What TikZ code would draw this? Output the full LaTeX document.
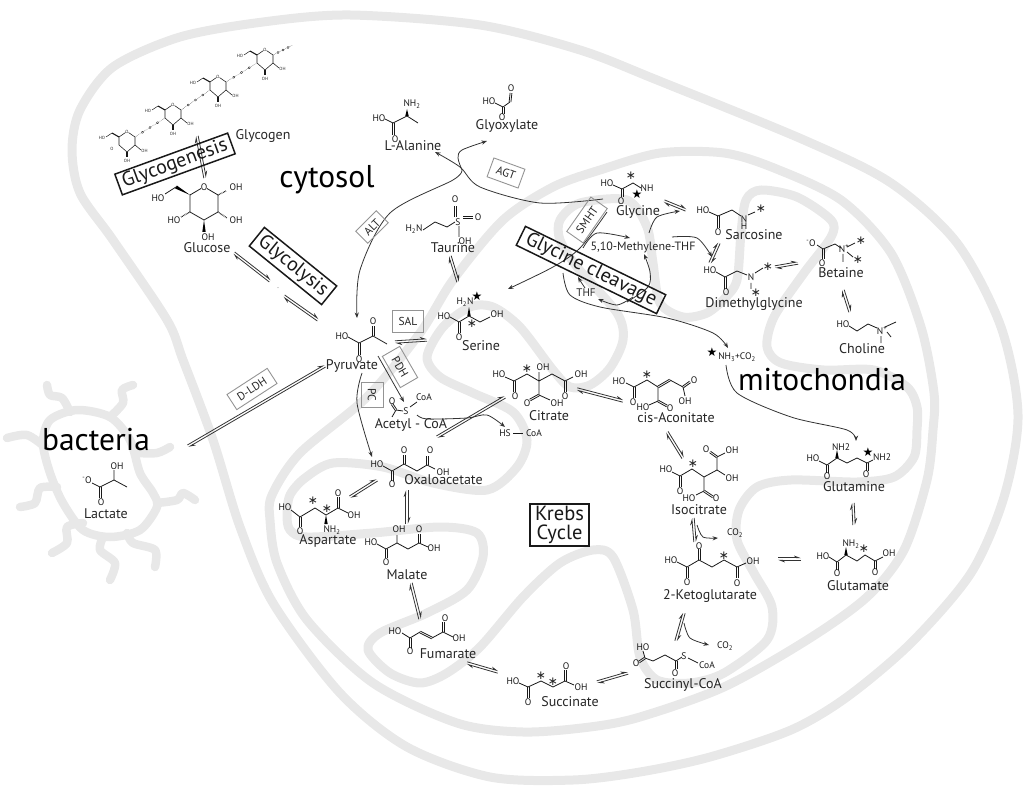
\documentclass[tikz,border=0pt]{standalone}
\usepackage{fontspec}
\setmainfont{PT Sans}
\newfontfamily\djv{DejaVu Sans}
\usetikzlibrary{arrows.meta,calc}
\newcounter{nc}
\newcommand\fs[1]{\fontsize{#1}{#1}\selectfont}
\tikzset{
 band/.style={draw=bandgray,line width=9pt,line join=round},
 fla/.style={draw=bandgray,line width=8.5pt,line cap=round,line join=round},
 bond/.style={draw=black!90,line width=.8pt,line join=round},
 atomn/.style={inner sep=0pt,text=black!90,font=\fs{9.5}},
 atoms/.style={inner sep=0pt,text=black!85,font=\fs{4.5}},
 lbln/.style={inner sep=0pt,text=black!85,font=\fs{14}},
 bign/.style={inner sep=0pt,text=black,font=\fs{31.5}},
 astn/.style={inner sep=0pt,text=black!85,font=\djv\fs{12}},
 starn/.style={inner sep=0pt,text=black,font=\djv\fs{12}},
 gbox/.style={draw=black!42,line width=.9pt,inner sep=0pt,text=black!85,font=\fs{11.5},align=center},
 bbox/.style={draw=black!90,line width=1.5pt,inner sep=0pt,text=black!90,font=\fs{20},align=center},
 rxn/.style={draw=black!80,line width=.8pt,-{Stealth[length=5.5pt,width=4.2pt]}},
 eqline/.style={draw=black!80,line width=.8pt,-{Stealth[length=6pt,width=4.5pt,left]}}
}
\definecolor{bandgray}{HTML}{E8E8E8}
\newcommand\atm[2]{\stepcounter{nc}\node[atomn] (a\arabic{nc}) at (#1) {#2};}
\newcommand\atms[2]{\stepcounter{nc}\node[atoms] (a\arabic{nc}) at (#1) {#2};}
\newcommand\lbl[3]{\node[lbln] (#1) at (#2) {#3};}
\newcommand\astr[1]{\stepcounter{nc}\node[astn] (a\arabic{nc}) at (#1) {∗};}
\newcommand\strm[1]{\stepcounter{nc}\node[starn] (a\arabic{nc}) at (#1) {★};}
\newcommand\dbl[2]{\draw[bond] ($(#1)!.9pt!90:(#2)$) -- ($(#2)!.9pt!-90:(#1)$);\draw[bond] ($(#1)!.9pt!-90:(#2)$) -- ($(#2)!.9pt!90:(#1)$);}
\newcommand\wdg[2]{\fill[black] (#1) -- ($(#2)!1.7pt!90:(#1)$) -- ($(#2)!1.7pt!-90:(#1)$) -- cycle;}
\newcommand\hsh[2]{\draw[bond,line width=1.3pt,dash pattern=on .6pt off .8pt] (#1) -- (#2);}
\newcommand\eqp[2]{\stepcounter{nc}\coordinate (e\arabic{nc}a) at (#1);\coordinate (e\arabic{nc}b) at (#2);
 \draw[eqline] ($(e\arabic{nc}a)!1.2pt!90:(e\arabic{nc}b)$) -- ($(e\arabic{nc}b)!1.2pt!-90:(e\arabic{nc}a)$);
 \draw[eqline] ($(e\arabic{nc}b)!1.2pt!90:(e\arabic{nc}a)$) -- ($(e\arabic{nc}a)!1.2pt!-90:(e\arabic{nc}b)$);}
\newcommand\crv[3]{\stepcounter{nc}\coordinate (c\arabic{nc}s) at (#1);\coordinate (c\arabic{nc}e) at (#3);
 \draw[rxn] plot[smooth] coordinates {(c\arabic{nc}s) #2 (c\arabic{nc}e)};}
\newcommand\sugar[2]{\begin{scope}[shift={(#1,#2)}]
 \draw[bond,line width=.55pt] (-1.5,-9.5)--(-8,-5)--(-8,3)--(0,10)--(8,3)--(8,-5)--(1.5,-9.5);
 \draw[bond,line width=1.1pt] (-8,-5)--(-15,-9);
 \draw[bond,line width=.55pt] (-15,-9)--(-21,-5) (8,3)--(14,8);
 \draw[bond,line width=1.1pt] (0,10)--(0,15);
 \atms{0,-10}{O}\atms{-25,-4}{HO}\atms{17.5,9}{OH}\atms{0,18.5}{OH}
 \end{scope}}
\newcommand\lnk[4]{\draw[bond,line width=.4pt,densely dotted] (#1,#2)--(#3,#4);
 \foreach \t in {.25,.5,.75}{\draw[bond,line width=.3pt,fill=white] ($(#1,#2)!\t!(#3,#4)$) circle (1.1pt);}}
\begin{document}
\begin{tikzpicture}[x=1pt,y=-1pt]
\useasboundingbox (0,0) rectangle (1024,791);
% cell
\draw[band] plot[smooth cycle] coordinates {(80,110)(113,67)(180,37)(263,22)(350,15)(480,25)(580,50)(657,80)(804,140)(891,183)(957,243)(1001,327)(1018,415)(1004,497)(971,573)(911,643)(847,697)(791,730)(710,757)(640,772)(573,780)(490,777)(407,747)(340,693)(273,603)(240,527)(213,440)(183,360)(167,320)(113,240)(80,193)(72,150)};
% mitochondrion outer
\draw[band] plot[smooth cycle] coordinates {(270,520)(277,563)(307,620)(373,683)(457,723)(523,732)(590,727)(640,717)(724,687)(807,640)(867,597)(904,550)(927,480)(933,430)(934,393)(921,327)(891,253)(841,200)(774,168)(724,153)(660,153)(600,170)(553,187)(503,220)(453,280)(420,333)(367,397)(300,453)(272,495)};
% inner membrane
\draw[band] plot[smooth cycle] coordinates {(287,515)(290,495)(305,478)(333,463)(383,467)(433,483)(487,490)(517,467)(527,440)(513,412)(473,393)(440,377)(427,357)(443,327)(470,307)(493,307)(520,327)(553,370)(570,387)(590,385)(610,368)(623,340)(617,313)(577,267)(560,240)(560,220)(580,203)(627,200)(647,227)(653,263)(660,303)(683,317)(707,313)(725,298)(737,280)(741,233)(746,200)(761,190)(797,197)(831,220)(831,237)(804,273)(774,317)(767,347)(781,363)(824,370)(874,370)(907,387)(917,407)(917,430)(914,457)(894,477)(857,482)(791,480)(757,487)(739,510)(737,540)(754,573)(772,607)(767,640)(724,673)(690,683)(657,680)(640,657)(633,610)(613,557)(593,550)(560,563)(523,597)(480,647)(447,673)(420,683)(390,673)(368,650)(380,633)(427,613)(467,590)(483,557)(477,533)(440,527)(373,533)(307,537)(290,530)};
% bacterium
\draw[fla] plot[smooth cycle] coordinates {(50,420)(77,410)(110,417)(130,440)(140,473)(153,493)(157,507)(140,530)(110,537)(83,530)(63,503)(50,473)(43,443)};
\draw[fla] plot[smooth] coordinates {(70,412)(62,398)(50,395)(47,385)};
\draw[fla] plot[smooth] coordinates {(110,417)(123,403)(122,390)(133,385)};
\draw[fla] plot[smooth] coordinates {(45,447)(27,435)(7,438)};
\draw[fla] plot[smooth] coordinates {(137,453)(157,453)(170,447)};
\draw[fla] plot[smooth] coordinates {(57,487)(40,488)(35,503)(20,507)};
\draw[fla] plot[smooth] coordinates {(157,503)(177,500)(183,493)(195,500)};
\draw[fla] plot[smooth] coordinates {(83,523)(67,527)(67,543)(52,553)};
\draw[fla] plot[smooth] coordinates {(103,537)(100,550)(115,563)(110,580)};
\draw[fla] plot[smooth] coordinates {(127,533)(133,543)(155,550)(155,567)};
% big labels
\node[bign] (cytosol) at (327,180) {cytosol};
\node[bign] (bacteria) at (96,440) {bacteria};
\node[bign] (mito) at (822,380) {mitochondia};
% glycogen
\sugar{265}{60}\sugar{218}{87}\sugar{173}{115}\sugar{127}{142}
\lnk{273}{55}{293}{45}\lnk{226}{82}{257}{63}\lnk{181}{110}{210}{90}\lnk{135}{137}{165}{118}
\atms{112,149}{O}
\lbl{glycogen}{263,136}{Glycogen}
% glucose
\draw[bond] (201,188.5)--(190,195)--(190,212)--(204,220)--(218,212)--(218,195)--(207,188.5);
\wdg{190,195}{176,187}
\draw[bond] (176,187)--(165,194);
\hsh{218,195}{226,191}\hsh{218,212}{227,218}\hsh{190,212}{181,217}
\wdg{204,220}{204,232}
\atm{204,187}{O}\atm{158,198}{HO}\atm{236,187}{OH}\atm{236,220}{OH}\atm{208,237}{OH}\atm{174,220}{HO}
\lbl{glucose}{207,248}{Glucose}
\eqp{197,136}{205,178}
\eqp{234,253}{270,281}
\atms{278,288}{..}
\eqp{284,296}{318,320}
% bacteria lactate
\draw[bond] (92,483)--(100,487)--(114,480)--(127,487) (114,480)--(114,470);
\dbl{100,487}{100,498}
\atm{87,480}{\textsuperscript{-}O}\atm{117,466}{OH}\atm{101,502}{O}
\lbl{lactate}{106,514}{Lactate}
% L-alanine
\draw[bond] (385,119)--(393,123)--(407,116)--(418,123);
\wdg{407,109}{407,116}\dbl{393,123}{393,135}
\atm{379,118}{HO}\atm{412,104}{NH\textsubscript{2}}\atm{395,139}{O}
\lbl{alanine}{413,146}{L-Alanine}
% glyoxylate
\draw[bond] (495,103)--(503,107)--(510,102);
\dbl{510,102}{511,93}\dbl{503,107}{503,114}
\atm{489,101}{HO}\atm{511,88}{O}\atm{502,117}{O}
\lbl{glyoxylate}{507,126}{Glyoxylate}
% taurine
\draw[bond] (423,230)--(435,222)--(447,227)--(455,222) (459,226)--(459,237);
\dbl{455,217}{455,206}\dbl{463,217.5}{473,217.5}
\atm{414,229}{H\textsubscript{2}N}\atm{458,222}{S}\atm{455,199}{O}\atm{478,217.5}{O}\atm{465,241}{OH}
\lbl{taurine}{453,248}{Taurine}
\eqp{450,256}{458,282}
% serine
\draw[bond] (450,317)--(459,322)--(469,316)--(480,322)--(490,317);
\wdg{469,307}{469,316}\dbl{459,322}{459,333}
\atm{465,302}{H\textsubscript{2}N}\strm{477,296}\atm{444,316}{HO}\atm{497,314}{OH}\atm{459,337}{O}\astr{472,324}
\lbl{serine}{481,346}{Serine}
% pyruvate
\draw[bond] (348,337)--(359,343)--(373,336)--(387,344);
\dbl{359,343}{359,355}\dbl{373,336}{373,326}
\atm{342,336}{HO}\atm{359,359}{O}\atm{373,321}{O}
\lbl{pyruvate}{352,366}{Pyruvate}
\eqp{395,342}{427,340}
\eqp{188,446}{325,366}
% acetyl
\draw[bond] (396,410)--(403,411) (396,410)--(392,417) (410,407)--(417,402);
\dbl{396,410}{392,404}
\atm{424,397}{CoA}\atm{406,411}{S}\atm{392,401}{O}
\lbl{acetyl}{411,425}{Acetyl - CoA}
\crv{417,415}{(427,419)(467,418)(487,415)}{505,427}
\atm{505,433}{HS}\atm{534,433}{CoA}
\draw[bond] (a\arabic{nc}) ++(-21,0) -- ++(10,0);
\eqp{437,437}{505,397}
% citrate
\draw[bond] (505,377)--(514,381)--(527,374)--(539,381)--(552,374)--(565,381)--(573,377) (539,372)--(539,395)--(550,400);
\dbl{514,381}{514,392}\dbl{565,381}{565,392}\dbl{539,395}{530,400}
\atm{499,374}{HO}\atm{581,374}{OH}\atm{515,396}{O}\atm{565,396}{O}\atm{543,367}{OH}\atm{527,403}{O}\atm{557,403}{OH}\astr{527,369}
\lbl{citrate}{549,416}{Citrate}
% cis-aconitate
\draw[bond] (626,383)--(634,387)--(647,380)--(658,387) (670,380)--(683,387)--(685,396) (658,387)--(658,401)--(649,405);
\dbl{634,387}{634,398}\dbl{658,387}{670,380}\dbl{683,387}{690,382}\dbl{658,401}{667,406}
\atm{619,381}{HO}\atm{694,380}{O}\atm{685,401}{OH}\atm{633,402}{O}\atm{670,408}{O}\atm{643,407}{HO}\astr{647,375}
\lbl{cisacon}{676,418}{cis-Aconitate}
\eqp{577,389}{623,401}
\eqp{667,432}{683,458}
% isocitrate
\draw[bond] (672,472)--(680,476)--(692,469)--(704,477)--(717,470)--(725,475) (717,470)--(717,457)--(725,453) (704,477)--(704,491)--(696,495);
\dbl{717,457}{710,452}\dbl{680,476}{680,487}\dbl{704,491}{713,497}
\atm{666,469}{HO}\atm{732,478}{OH}\atm{706,449}{O}\atm{732,450}{OH}\atm{680,491}{O}\atm{716,498}{O}\atm{689,498}{HO}\astr{693,464}
\lbl{isocit}{699,510}{Isocitrate}
\eqp{693,518}{695,542}
\crv{697,525}{(703,537)}{718,538}
\atm{735,533}{CO\textsubscript{2}}
% 2-ketoglutarate
\draw[bond] (677,562)--(687,567)--(699,560)--(712,567)--(724,560)--(737,567)--(746,563);
\dbl{687,567}{687,578}\dbl{699,560}{699,549}\dbl{737,567}{737,578}
\atm{671,560}{HO}\atm{753,561}{OH}\atm{687,582}{O}\atm{699,546}{O}\atm{737,583}{O}\astr{724,556}
\lbl{akg}{710,596}{2-Ketoglutarate}
\eqp{778,559}{801,559}
% glutamine
\draw[bond] (819,461)--(827,465)--(837,458)--(847,463)--(857,458)--(867,463)--(873,460);
\wdg{837,450}{837,458}\dbl{827,465}{827,473}\dbl{867,463}{867,471}
\atm{813,458}{HO}\atm{841,447}{NH2}\atm{827,476}{O}\atm{866,474.5}{O}\atm{882,457}{NH2}\strm{868,452}
\lbl{glutamine}{854,487}{Glutamine}
\crv{726,365}{(737,393)(791,417)(847,430)}{856,441}
\eqp{853,503}{854,525}
% glutamate
\draw[bond] (829,557)--(837,562)--(846,555)--(857,561)--(865,555)--(875,561)--(883,557);
\wdg{846,547}{846,555}\dbl{837,562}{837,570}\dbl{875,561}{875,569}
\atm{823,556}{HO}\atm{889,553}{OH}\atm{851,544}{NH\textsubscript{2}}\atm{837,573}{O}\atm{875,572}{O}\astr{864,549}
\lbl{glutamate}{858,586}{Glutamate}
% glycine
\draw[bond] (613,185)--(622,189)--(633,183)--(641,188);
\dbl{622,189}{622,197}
\atm{607,183}{HO}\atm{647,188}{NH}\atm{621,201}{O}\astr{631,176}\strm{637,194}
\lbl{glycine}{638,212}{Glycine}
\eqp{664,201}{686,210}
\crv{649,233}{(657,217)}{680,211}
% sarcosine
\draw[bond] (709,212)--(718,216)--(732,210)--(741,216) (748,215)--(755,212);
\dbl{718,216}{718,228}
\atm{703,210}{HO}\atm{744,219}{N}\atm{744,226}{H}\atm{718,232}{O}\astr{761,209}
\lbl{sarcosine}{754,235}{Sarcosine}
\eqp{719,243}{710,263}
\crv{672,237}{(697,238)}{712,257}
% dimethylglycine
\draw[bond] (716,272)--(725,277)--(737,271)--(747,275) (755,273)--(763,268) (751,283)--(751,289);
\dbl{725,277}{725,289}
\atm{710,270}{HO}\atm{751,277}{N}\atm{726,292}{O}\astr{768,267}\astr{756,293}
\lbl{dmg}{754,304}{Dimethylglycine}
\eqp{775,267}{798,263}
% betaine
\draw[bond] (817,245)--(823,249)--(835,244)--(841,248) (847,247)--(855,243) (847,252)--(853,257) (843,254)--(843,262);
\dbl{823,249}{823,259}
\atm{811,243}{\textsuperscript{-}O}\atm{844,249}{N\textsuperscript{+}}\atm{822,263}{O}\astr{861,241}\astr{858,260}
\lbl{betaine}{841,273}{Betaine}
\eqp{843,290}{850,312}
% choline
\draw[bond] (849,326)--(857,331)--(868,324)--(877,328) (885,327)--(896,322) (887,332)--(891,337) (881,336)--(881,343);
\atm{843,324}{HO}\atm{882,331}{N\textsuperscript{+}}
\lbl{choline}{862,349}{Choline}
% NH3
\strm{712,352}\node[atomn] (nhco) at (737,357) {NH\textsubscript{3}+CO\textsubscript{2}};
\crv{563,273}{(570,295)(600,307)(667,318)(713,333)}{728,348}
% THF cycle
\lbl{thf5}{643,247}{\fs{12}5,10-Methylene-THF}
\lbl{thf}{586,293}{\fs{11}THF}
\crv{583,248}{(597,233)}{630,238}
\crv{627,302}{(648,287)(650,272)}{644,254}
\crv{633,297}{(617,305)}{598,299}
\crv{585,288}{(581,282)}{578,277}
\crv{607,212}{(580,248)(553,267)}{508,289}
% alanine/glyoxylate curves
\crv{462,170}{(453,180)(390,213)(360,270)}{357,318}
\crv{462,170}{(458,158)(462,150)}{487,141}
\crv{603,199}{(540,203)(480,187)(460,167)}{435,152}
% oxaloacetate
\draw[bond] (383,466)--(392,471)--(404,464)--(417,471)--(427,465)--(435,469);
\dbl{392,471}{392,481}\dbl{404,464}{404,455}\dbl{427,465}{427,456}
\atm{377,464}{HO}\atm{443,472}{OH}\atm{392,484}{O}\atm{404,450}{O}\atm{430,450}{O}
\lbl{oaa}{443.5,480}{Oxaloacetate}
\crv{362,373}{(357,403)}{372,457}
\draw[rxn] (378,356) -- (404,402);
\eqp{377,480}{350,497}
\eqp{407,490}{407,524}
% aspartate
\draw[bond] (291,510)--(300,517)--(315,508)--(326,515)--(338,508)--(348,513);
\dbl{300,517}{300,527}\dbl{338,508}{338,497}
\wdg{326,515}{326,524}
\atm{285,507}{HO}\atm{300,531}{O}\atm{354,515}{OH}\atm{338,493}{O}\atm{332,530}{NH\textsubscript{2}}\astr{313,501}\astr{327,509}
\lbl{aspartate}{328,541}{Aspartate}
% malate
\draw[bond] (377,544)--(386,549)--(397,543)--(408,549)--(419,543)--(428,547) (397,543)--(397,535);
\dbl{386,549}{386,558}\dbl{419,543}{419,534}
\atm{371,542}{HO}\atm{434,548}{OH}\atm{399,529}{OH}\atm{386,562}{O}\atm{419,529}{O}
\lbl{malate}{407,575}{Malate}
\eqp{411,583}{420,619}
% fumarate
\draw[bond] (402,633)--(410,638)--(420,632) (432,638)--(443,632)--(453,637);
\dbl{410,638}{410,648}\dbl{420,632}{432,638}\dbl{443,632}{443,622}
\atm{395,631}{HO}\atm{459,638}{OH}\atm{410,651}{O}\atm{445,618}{O}
\lbl{fumarate}{448,654}{Fumarate}
\eqp{467,663}{498,672}
% succinate
\draw[bond] (519,683)--(528,687)--(541,681)--(553,687)--(565,681)--(574,685);
\dbl{528,687}{528,698}\dbl{565,681}{565,670}
\atm{513,681}{HO}\atm{581,687}{OH}\atm{528,702}{O}\atm{566,666}{O}\astr{541,676}\astr{553,682}
\lbl{succinate}{570,702}{Succinate}
\eqp{597,682}{628,673}
% succinyl-CoA
\draw[bond] (643,651)--(645,658)--(653,661)--(665,655)--(676,661)--(682,657) (688,658)--(698,663);
\dbl{645,658}{639,662}\dbl{676,661}{676,669}
\atm{643,647}{HO}\atm{636,663}{O}\atm{684,656}{S}\atm{707,665}{CoA}\atm{675,673}{O}
\lbl{succoa}{683,685}{Succinyl-CoA}
\eqp{684,613}{676,641}
\crv{684,623}{(690,638)}{709,645}
\atm{725,646}{CO\textsubscript{2}}
% boxes
\node[bbox,rotate=20,minimum width=120pt,minimum height=22pt] (bglycogen) at (175,164) {Glycogenesis};
\node[bbox,rotate=-39,minimum width=93pt,minimum height=24pt] (bglycolysis) at (293,266) {Glycolysis};
\node[bbox,rotate=-26,minimum width=156pt,minimum height=21pt] (bcleave) at (591,270) {Glycine cleavage};
\node[bbox,minimum width=59pt,minimum height=42pt,font=\fs{20.5}] (bkrebs) at (559.5,525) {Krebs\\[-2pt]Cycle};
\node[gbox,rotate=45,minimum width=29pt,minimum height=17pt] (galt) at (372,227) {ALT};
\node[gbox,rotate=-20,minimum width=33pt,minimum height=20pt] (gagt) at (506,173) {AGT};
\node[gbox,rotate=55,minimum width=42pt,minimum height=20pt] (gsmht) at (587,220) {SMHT};
\node[gbox,minimum width=31pt,minimum height=22pt] (gsal) at (408,321) {SAL};
\node[gbox,rotate=-60,minimum width=36pt,minimum height=20pt] (gpdh) at (400,367) {PDH};
\node[gbox,rotate=-90,minimum width=25pt,minimum height=22pt] (gpc) at (372,395) {PC};
\node[gbox,rotate=33,minimum width=48pt,minimum height=18pt] (gdldh) at (252,389) {D-LDH};
\end{tikzpicture}
\end{document}
